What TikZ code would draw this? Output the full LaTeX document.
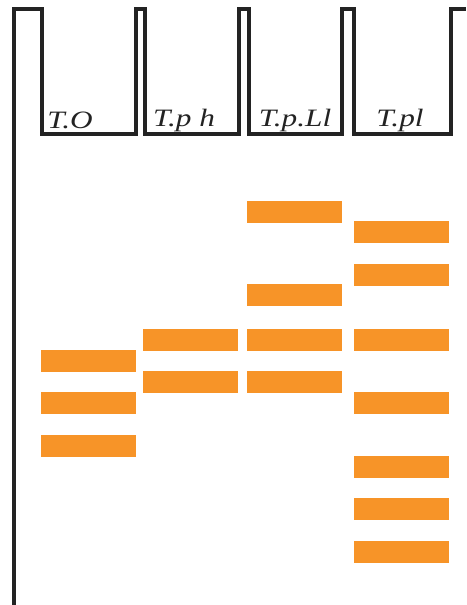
\documentclass[tikz,border=0pt]{standalone}
\usepackage{fontspec}
\setmainfont{Liberation Serif}
\usetikzlibrary{positioning}
\definecolor{bandorange}{RGB}{247,148,40}
\definecolor{gelline}{RGB}{35,35,35}

\begin{document}
\begin{tikzpicture}[
  x=1pt, y=-1pt,
  band/.style={fill=bandorange, minimum width=95pt, minimum height=22pt, inner sep=0pt},
  lane/.style={font=\fontsize{25}{25}\selectfont\itshape, text=gelline, inner sep=0pt, xscale=1.25},
  gel/.style={draw=gelline, line width=3.2pt, line join=miter},
]
  \useasboundingbox (0,0) rectangle (466,605);
  % gel outline with wells
  \draw[gel] (14,605) -- (14,9) -- (42,9) -- (42,134) -- (136,134) -- (136,9)
    -- (145,9) -- (145,134) -- (239,134) -- (239,9)
    -- (249,9) -- (249,134) -- (342,134) -- (342,9)
    -- (354,9) -- (354,134) -- (451,134) -- (451,9) -- (466,9);
  % lane labels
  \node[lane] (lto)  at (70,120)  {T.O};
  \node[lane] (ltph) at (184,120) {T.p h};
  \node[lane] (ltpl) at (295,120) {T.p.Ll};
  \node[lane] (ltp)  at (400,120) {T.pl};
  % bands, lane by lane
  \foreach \y [count=\i] in {360.5, 402.5, 446} \node[band] (to\i) at (88,\y) {};
  \foreach \y [count=\i] in {339.5, 381.5} \node[band] (tph\i) at (190.5,\y) {};
  \foreach \y [count=\i] in {211.5, 295, 339.5, 381.5} \node[band] (tpl\i) at (294,\y) {};
  \foreach \y [count=\i] in {231.5, 275, 339.5, 402.5, 466.5, 509, 552} \node[band] (tp\i) at (401,\y) {};
\end{tikzpicture}
\end{document}
